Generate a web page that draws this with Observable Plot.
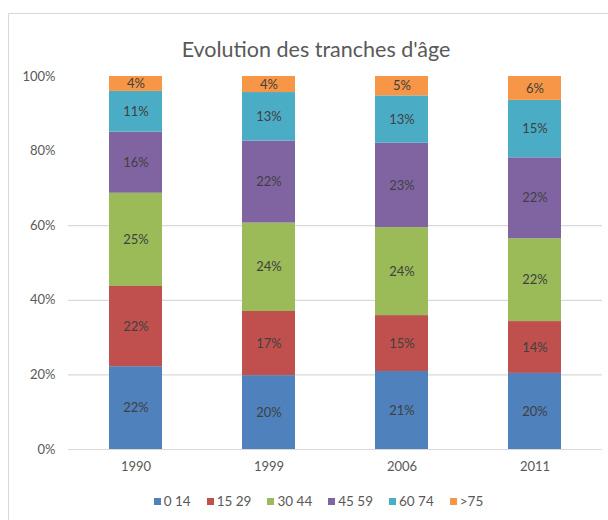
<!DOCTYPE html>
<html>
<head>
<meta charset="utf-8">
<script src="https://cdn.jsdelivr.net/npm/d3@7"></script>
<script src="https://cdn.jsdelivr.net/npm/@observablehq/plot@0.6"></script>
<style>
  body { margin: 0; background: #fff; font-family: Lato, "Open Sans", sans-serif; }
  #wrap { position: relative; width: 608px; height: 520px; overflow: hidden; }
  #frame { position: absolute; left: 8px; top: 13px; width: 620px; height: 540px;
           border-left: 1.5px solid #d9d9d9; border-top: 1.5px solid #d9d9d9; }
  #title { position: absolute; left: 0; width: 632px; top: 36px; text-align: center;
           font-size: 21.5px; color: #595959; }
  #chart { position: absolute; left: 0; top: 60px; }
  #legend { position: absolute; left: 0; width: 637px; top: 493px; display: flex; justify-content: center;
            font-size: 13.5px; color: #595959; }
  #legend span.item { margin: 0 8px; white-space: nowrap; display: flex; align-items: center; }
  #legend span.sw { display: inline-block; width: 7px; height: 7px; margin-right: 3px; }
</style>
</head>
<body>
<div id="wrap">
  <div id="frame"></div>
  <div id="title">Evolution des tranches d'âge</div>
  <div id="chart"></div>
  <div id="legend"></div>
</div>
<script>
const years = ["1990", "1999", "2006", "2011"];
const groups = ["0 14", "15 29", "30 44", "45 59", "60 74", ">75"];
const colors = ["#4F81BD", "#C0504D", "#9BBB59", "#8064A2", "#4BACC6", "#F79646"];
// shares (%) per age group, one array per year, in the order of `groups`
const v1990 = [22.2, 21.5, 25.0, 16.4, 10.9, 4.0];
const v1999 = [19.8, 17.2, 23.7, 22.0, 13.0, 4.3];
const v2006 = [20.9, 15.0, 23.6, 22.6, 12.7, 5.2];
const v2011 = [20.4, 13.9, 22.2, 21.7, 15.4, 6.4];
const yTicks = [0, 20, 40, 60, 80, 100];
const gridTicks = [0, 20, 40, 60];

const series = [v1990, v1999, v2006, v2011];
const data = [];
years.forEach((yr, i) => {
  groups.forEach((g, j) => data.push({year: yr, group: g, value: series[i][j]}));
});

const chart = Plot.plot({
  width: 608,
  height: 420,
  marginTop: 16,
  marginBottom: 31,
  marginLeft: 68,
  marginRight: 6,
  style: {fontFamily: "Lato, 'Open Sans', sans-serif", fontSize: "13px", color: "#595959", background: "transparent"},
  x: {domain: years, paddingInner: 0.6, paddingOuter: 0.3, align: 0.5, label: null},
  y: {domain: [0, 100], label: null},
  color: {domain: groups, range: colors},
  marks: [
    Plot.ruleY(gridTicks, {stroke: "#d9d9d9", strokeWidth: 1.2}),
    Plot.barY(data, Plot.stackY({x: "year", y: "value", fill: "group", order: null})),
    Plot.text(data, Plot.stackY({x: "year", y: "value", z: "group", order: null,
      text: d => Math.round(d.value) + "%", fill: "#404040", fontSize: 13})),
    Plot.axisY(yTicks, {tickSize: 0, tickPadding: 13, tickFormat: d => d + "%", fill: "#595959", fontSize: 13}),
    Plot.axisX({tickSize: 0, tickPadding: 12, fill: "#595959", fontSize: 13})
  ]
});
document.getElementById("chart").appendChild(chart);

const legend = document.getElementById("legend");
groups.forEach((g, j) => {
  const item = document.createElement("span");
  item.className = "item";
  const sw = document.createElement("span");
  sw.className = "sw";
  sw.style.background = colors[j];
  item.appendChild(sw);
  item.appendChild(document.createTextNode(g));
  legend.appendChild(item);
});
</script>
</body>
</html>
